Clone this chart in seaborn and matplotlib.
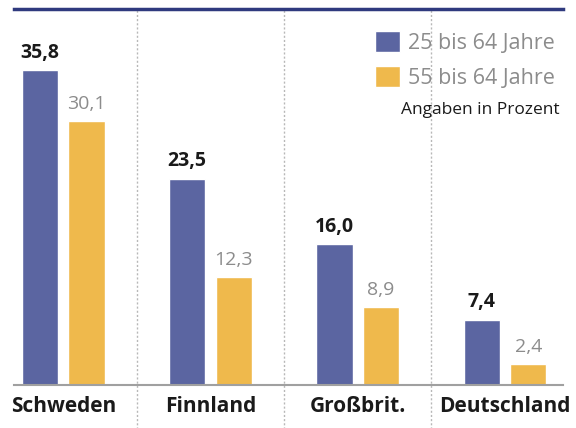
import pandas as pd
import matplotlib.pyplot as plt
import seaborn as sns
from matplotlib.patches import Patch

# Daten aus der Grafik
laender = ["Schweden", "Finnland", "Großbrit.", "Deutschland"]
werte_25_64 = [35.8, 23.5, 16.0, 7.4]
werte_55_64 = [30.1, 12.3, 8.9, 2.4]
gruppen = ["25 bis 64 Jahre", "55 bis 64 Jahre"]

df = pd.DataFrame({
    "Land": laender * 2,
    "Wert": werte_25_64 + werte_55_64,
    "Gruppe": [gruppen[0]] * 4 + [gruppen[1]] * 4,
})

blau = "#5b65a1"
gelb = "#efb94c"
grau_text = "#8c8c8c"

sns.set_style("white")
plt.rcParams["font.family"] = ["Open Sans", "DejaVu Sans"]

fig = plt.figure(figsize=(5.76, 4.28), dpi=100)
ax = fig.add_axes([14 / 576, 1 - 385 / 428, 549 / 576, 376 / 428])

sns.barplot(data=df, x="Land", y="Wert", hue="Gruppe", order=laender,
            hue_order=gruppen, palette=[blau, gelb], width=0.633, gap=0.225,
            saturation=1, legend=False, ax=ax)

ax.set_xlim(-0.334, 3.393)
ax.set_ylim(0, 42.8)
ax.set_xlabel("")
ax.set_ylabel("")
ax.set_yticks([])
ax.tick_params(axis="x", length=0, pad=8)
for lbl in ax.get_xticklabels():
    lbl.set_fontweight("bold")
    lbl.set_fontsize(15)
    lbl.set_color("#1a1a1a")

for side in ["left", "right"]:
    ax.spines[side].set_visible(False)
ax.spines["top"].set_color("#2f3a7e")
ax.spines["top"].set_linewidth(2.5)
ax.spines["bottom"].set_color("#a0a0a0")
ax.spines["bottom"].set_linewidth(1.5)

# gepunktete Trennlinien
for xpos in [0.5, 1.5, 2.5]:
    ax.axvline(xpos, ymin=-0.12, ymax=1, color="#b8b8b8", linestyle=(0, (1.5, 1.5)),
               linewidth=1, clip_on=False, zorder=0)

# Werte über den Balken
for i, (a, b) in enumerate(zip(werte_25_64, werte_55_64)):
    ax.text(i - 0.158, a + 0.9, f"{a:.1f}".replace(".", ","), ha="center", va="bottom",
            fontsize=14, fontweight="bold", color="#1a1a1a")
    ax.text(i + 0.158, b + 0.9, f"{b:.1f}".replace(".", ","), ha="center", va="bottom",
            fontsize=14, color=grau_text)

handles = [Patch(facecolor=blau), Patch(facecolor=gelb)]
leg = ax.legend(handles, gruppen, loc="upper right", bbox_to_anchor=(1.0, 0.965),
                frameon=False, fontsize=15.5, labelcolor=grau_text,
                handlelength=1.15, handleheight=1.15, handletextpad=0.35,
                labelspacing=0.55, borderaxespad=0.0)
ax.text(0.993, 0.731, "Angaben in Prozent", transform=ax.transAxes, ha="right",
        va="center", fontsize=12.5, color="#1a1a1a")

fig.savefig("out.png", dpi=100)
